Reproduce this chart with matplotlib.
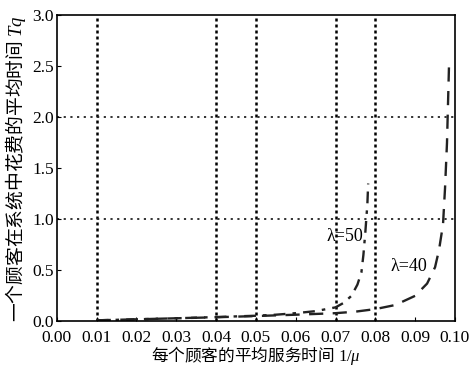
import matplotlib
matplotlib.use("Agg")
import matplotlib.pyplot as plt

plt.rcParams['font.family'] = ['Liberation Serif', 'Noto Sans CJK SC']
plt.rcParams['mathtext.fontset'] = 'custom'
plt.rcParams['mathtext.rm'] = 'Liberation Serif'
plt.rcParams['mathtext.it'] = 'Liberation Serif:italic'

# 每个顾客的平均服务时间 1/mu 与 系统中平均时间 Tq
s50 = [0.01, 0.02, 0.03, 0.04, 0.05, 0.055, 0.06, 0.065, 0.07, 0.072,
       0.074, 0.0755, 0.0765, 0.077, 0.0775, 0.078, 0.0782]
t50 = [0.01, 0.02, 0.03, 0.042, 0.055, 0.065, 0.08, 0.10, 0.137, 0.18,
       0.25, 0.36, 0.48, 0.65, 0.88, 1.15, 1.35]

s40 = [0.01, 0.02, 0.03, 0.04, 0.05, 0.06, 0.07, 0.075, 0.08, 0.085,
       0.09, 0.093, 0.095, 0.096, 0.097, 0.0975, 0.098, 0.0985]
t40 = [0.01, 0.02, 0.03, 0.04, 0.052, 0.065, 0.08, 0.095, 0.12, 0.16,
       0.25, 0.37, 0.53, 0.70, 0.95, 1.3, 1.75, 2.5]

vlines = [0.01, 0.04, 0.05, 0.07, 0.08]
hlines = [1.0, 2.0]

xticks = [0.00, 0.01, 0.02, 0.03, 0.04, 0.05, 0.06, 0.07, 0.08, 0.09, 0.10]
yticks = [0.0, 0.5, 1.0, 1.5, 2.0, 2.5, 3.0]

fig = plt.figure(figsize=(4.7, 3.66), dpi=100)
ax = fig.add_axes([0.121, 0.122, 0.847, 0.837])

for v in vlines:
    ax.axvline(v, color='black', lw=1.8, ls=(0, (1.2, 1.2)), zorder=1)
for h in hlines:
    ax.axhline(h, color='#222222', lw=1.3, ls=(0, (1.2, 2.5)), zorder=1)

ax.plot(s50, t50, color='#222222', lw=1.7, ls=(0, (5, 3, 1.5, 3)), zorder=2)
ax.plot(s40, t40, color='#222222', lw=1.7, ls=(0, (6, 4)), zorder=2)

ax.text(0.0677, 0.83, 'λ=50', fontsize=13, va='center', ha='left')
ax.text(0.0838, 0.54, 'λ=40', fontsize=13, va='center', ha='left')

ax.set_xlim(0, 0.10)
ax.set_ylim(0, 3.0)
ax.set_xticks(xticks)
ax.set_xticklabels(['%.2f' % v for v in xticks])
ax.set_yticks(yticks)
ax.set_yticklabels(['%.1f' % v for v in yticks])
ax.tick_params(direction='in', length=3, labelsize=12.5)
ax.tick_params(axis='x', pad=6)
ax.tick_params(axis='y', pad=2)

ax.set_xlabel('每个顾客的平均服务时间 $1/\\mathit{\\mu}$',
              fontfamily='Noto Sans CJK SC', fontsize=12, labelpad=-1)
ax.set_ylabel('一个顾客在系统中花费的平均时间 $\\mathit{Tq}$',
              fontfamily='Noto Sans CJK SC', fontsize=13.5, labelpad=3)

for sp in ax.spines.values():
    sp.set_linewidth(1.2)

fig.savefig('out.png', dpi=100)
